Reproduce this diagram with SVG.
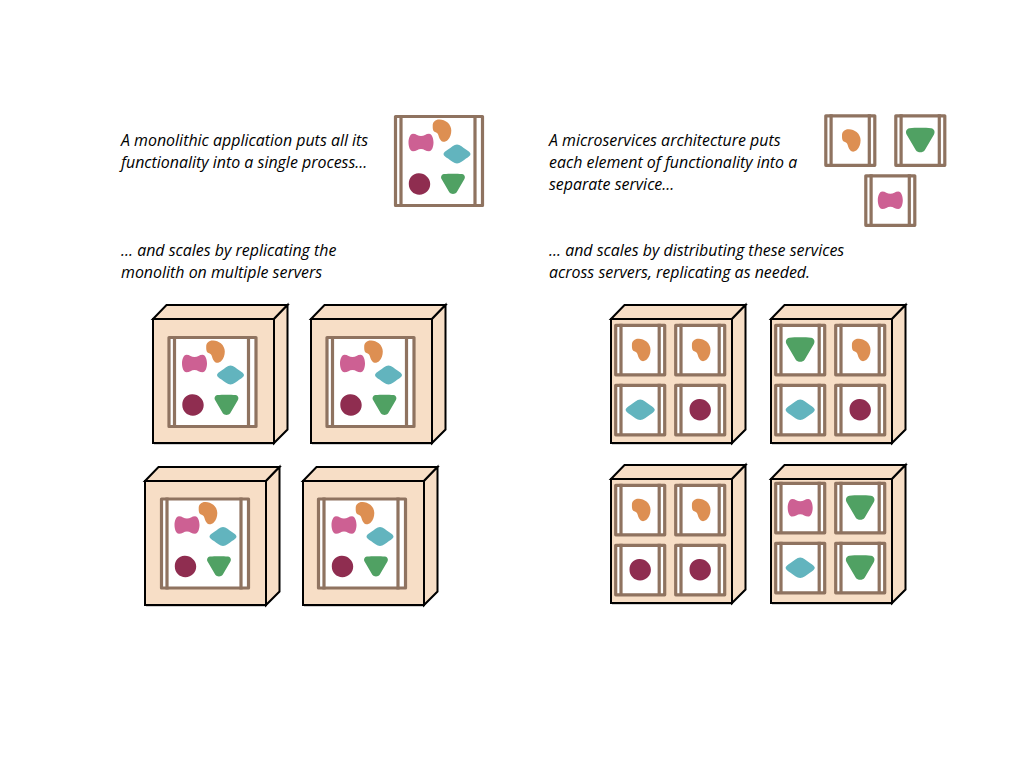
<svg xmlns="http://www.w3.org/2000/svg" width="1024" height="768" viewBox="0 0 1024 768">
<style>
text{font-family:"Open Sans","Noto Sans",sans-serif;font-style:italic;font-size:15.950px;fill:#000}
.fr{fill:#fff;stroke:#8f7360;stroke-width:3.200;stroke-linejoin:round}
.ln{fill:none;stroke:#8f7360;stroke-width:3.200}
.cf{fill:#f7dec6;stroke:#000;stroke-width:2;stroke-linejoin:miter}
.sh{fill:#000;opacity:.18}
.or{fill:#dd8f52}.pk{fill:#cd6093}.te{fill:#62b4be}.dk{fill:#8f2d50}.gr{fill:#50a163}
</style>
<defs>
<path id="s-or" class="or" d="M-9.300,-5C-9.300,-8.500 -6.500,-11 -3,-11C0,-11.200 3,-10 5.300,-8.300C8,-6 9.300,-3 9.300,0C9.300,4 8,7 6,9.300C4.500,11 2.500,11.500 1,11.300C-1,11 -2.200,8.500 -3,6.700C-3.500,5 -3.800,3.500 -4.700,2.700C-6,1.500 -8,1.500 -8.700,0C-9.300,-1.500 -9.300,-3 -9.300,-5Z"/>
<path id="s-pk" class="pk" d="M-8,-8.800C-5,-8.800 -3,-6.500 0,-6.500C3,-6.500 5,-8.800 8,-8.800C11,-8.800 12.500,-4 12.500,0C12.500,4 11,8.800 8,8.800C5,8.800 3,6.500 0,6.500C-3,6.500 -5,8.800 -8,8.800C-11,8.800 -12.500,4 -12.500,0C-12.500,-4 -11,-8.800 -8,-8.800Z"/>
<path id="s-te" class="te" d="M0,-9.500C3,-9.500 6,-6.500 9,-4.500C11.500,-3 13.500,-1.500 13.500,0C13.500,1.500 11.500,3 9,4.500C6,6.500 3,9.500 0,9.500C-3,9.500 -6,6.500 -9,4.500C-11.500,3 -13.500,1.500 -13.500,0C-13.500,-1.500 -11.500,-3 -9,-4.500C-6,-6.500 -3,-9.500 0,-9.500Z"/>
<path id="s-dk" class="dk" d="M-1,-10.700C5,-11 10.700,-6 10.700,0C10.700,6 6,10.500 0,10.700C-6,10.800 -10.700,6 -10.700,0C-10.700,-6 -7,-10.500 -1,-10.700Z"/>
<path id="s-gr" class="gr" d="M-9,-10C-4,-10.500 4,-10.500 9,-10C12,-9.500 12.500,-6.500 11.300,-4.700L3.700,8.200C2,10.500 -2,10.500 -3.700,8.200L-11.300,-4.700C-12.500,-6.500 -12,-9.500 -9,-10Z"/>
<g id="f-box"><rect class="fr" x="1.500" y="1.500" width="49" height="49.500"/><path class="ln" d="M6.800,0V52M45,0V52"/></g>
<g id="m-or"><use href="#f-box"/><use href="#s-or" transform="translate(27,26)"/></g>
<g id="m-pk"><use href="#f-box"/><use href="#s-pk" transform="translate(26,26)"/></g>
<g id="m-te"><use href="#f-box"/><use href="#s-te" transform="translate(26,26) scale(1.080)"/></g>
<g id="m-dk"><use href="#f-box"/><use href="#s-dk" transform="translate(26,26)"/></g>
<g id="m-gr"><use href="#f-box"/><use href="#s-gr" transform="translate(26,26) scale(1.200)"/></g>
<g id="mono">
<rect class="fr" x="1.500" y="1.500" width="87" height="89"/>
<path class="ln" d="M7,0V92M81,0V92"/>
<use href="#s-or" transform="translate(48,15.500)"/>
<use href="#s-pk" transform="translate(27,27.500)"/>
<use href="#s-te" transform="translate(63,39)"/>
<use href="#s-dk" transform="translate(25.500,69)"/>
<use href="#s-gr" transform="translate(59,69)"/>
</g>
<g id="cube">
<path class="sh" d="M1,2H122V126H1Z"/>
<path class="cf" d="M0,0L13.500,-14H134.500L121,0Z"/>
<path class="cf" d="M121,0L134.500,-14V110.500L121,124Z"/>
<rect class="cf" x="0" y="0" width="121" height="124"/>
</g>
</defs>

<g id="captions">
<text x="121" y="146">A monolithic application puts all its</text>
<text x="121" y="168">functionality into a single process...</text>
<text x="121" y="256">... and scales by replicating the</text>
<text x="121" y="278">monolith on multiple servers</text>
<text x="549" y="146">A microservices architecture puts</text>
<text x="549" y="168">each element of functionality into a</text>
<text x="549" y="190">separate service...</text>
<text x="549" y="256">... and scales by distributing these services</text>
<text x="549" y="278">across servers, replicating as needed.</text>
</g>

<g id="monolith-app"><use href="#mono" transform="translate(394,115)"/></g>
<g id="service-orange"><use href="#m-or" transform="translate(824.300,114.300)"/></g>
<g id="service-green"><use href="#m-gr" transform="translate(894.300,114.300)"/></g>
<g id="service-pink"><use href="#m-pk" transform="translate(864.300,174.300)"/></g>

<g id="server-mono-1"><use href="#cube" transform="translate(153,319)"/><use href="#mono" transform="translate(167.500,336)"/></g>
<g id="server-mono-2"><use href="#cube" transform="translate(311,319)"/><use href="#mono" transform="translate(325.500,336)"/></g>
<g id="server-mono-3"><use href="#cube" transform="translate(145,481)"/><use href="#mono" transform="translate(160,497.500)"/></g>
<g id="server-mono-4"><use href="#cube" transform="translate(303,481)"/><use href="#mono" transform="translate(317,497.500)"/></g>

<g id="server-micro-1"><use href="#cube" transform="translate(611,319)"/>
<use href="#m-or" transform="translate(614.200,323.800)"/><use href="#m-or" transform="translate(674.200,323.800)"/>
<use href="#m-te" transform="translate(614.200,383.800)"/><use href="#m-dk" transform="translate(674.200,383.800)"/></g>
<g id="server-micro-2"><use href="#cube" transform="translate(771,319)"/>
<use href="#m-gr" transform="translate(774.200,323.800)"/><use href="#m-or" transform="translate(834.200,323.800)"/>
<use href="#m-te" transform="translate(774.200,383.800)"/><use href="#m-dk" transform="translate(834.200,383.800)"/></g>
<g id="server-micro-3"><use href="#cube" transform="translate(611,479)"/>
<use href="#m-or" transform="translate(614.200,483.800)"/><use href="#m-or" transform="translate(674.200,483.800)"/>
<use href="#m-dk" transform="translate(614.200,543.800)"/><use href="#m-dk" transform="translate(674.200,543.800)"/></g>
<g id="server-micro-4"><use href="#cube" transform="translate(771,479)"/>
<use href="#m-pk" transform="translate(774.200,481.800)"/><use href="#m-gr" transform="translate(834.200,481.800)"/>
<use href="#m-te" transform="translate(774.200,541.800)"/><use href="#m-gr" transform="translate(834.200,541.800)"/></g>
</svg>
